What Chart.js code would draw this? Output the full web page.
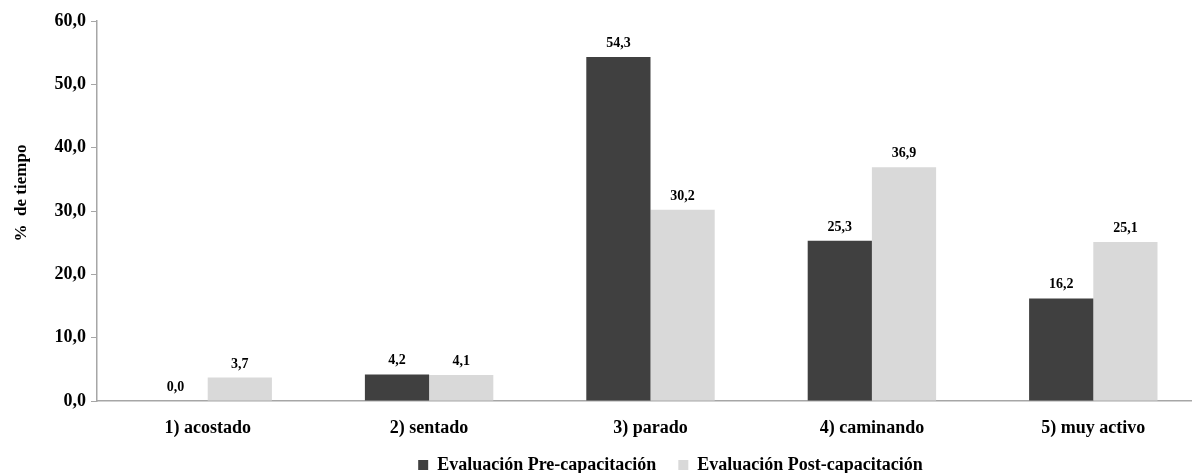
<!DOCTYPE html>
<html lang="es">
  <head>
    <meta charset="UTF-8" />
    <title>% de tiempo por nivel de actividad</title>
    <style>
      html, body { margin: 0; padding: 0; background: #fff; overflow: hidden; }
      #wrap { width: 1204px; height: 473px; }
    </style>
    <script src="https://cdn.jsdelivr.net/npm/chart.js"></script>
  </head>
  <body>
    <div id="wrap">
      <canvas id="actividadChart" width="1204" height="473"></canvas>
    </div>

    <script>
      // categorías de actividad y porcentaje de tiempo en cada una
      const categorias = ["1) acostado", "2) sentado", "3) parado", "4) caminando", "5) muy activo"];
      const preCapacitacion = [0.0, 4.2, 54.3, 25.3, 16.2];
      const postCapacitacion = [3.7, 4.1, 30.2, 36.9, 25.1];
      const serieNombres = ["Evaluación Pre-capacitación", "Evaluación Post-capacitación"];
      const tituloEjeY = "%  de tiempo";

      const FUENTE = "'Liberation Serif', 'Times New Roman', serif";
      const fmt = (v) => v.toFixed(1).replace(".", ",");
      const PAD_LEYENDA = 22;

      // valores encima de cada barra
      const etiquetasBarras = {
        id: "etiquetasBarras",
        afterDatasetsDraw(chart) {
          const ctx = chart.ctx;
          ctx.save();
          ctx.font = "bold 14px " + FUENTE;
          ctx.fillStyle = "#000";
          ctx.textAlign = "center";
          ctx.textBaseline = "alphabetic";
          chart.data.datasets.forEach((ds, i) => {
            chart.getDatasetMeta(i).data.forEach((bar, j) => {
              ctx.fillText(fmt(ds.data[j]), bar.x, bar.y - 10);
            });
          });
          ctx.restore();
        },
      };

      // título vertical del eje Y, algo por encima del centro
      const tituloY = {
        id: "tituloY",
        afterDraw(chart) {
          const ctx = chart.ctx;
          ctx.save();
          ctx.translate(22, 193);
          ctx.rotate(-Math.PI / 2);
          ctx.font = "bold 17px " + FUENTE;
          ctx.fillStyle = "#000";
          ctx.textAlign = "center";
          ctx.textBaseline = "middle";
          ctx.fillText(tituloEjeY, 0, 0);
          ctx.restore();
        },
      };

      // acomoda la leyenda: un poco a la derecha y con el texto en y = 465
      const moverLeyenda = {
        id: "moverLeyenda",
        afterLayout(chart) {
          const lg = chart.legend;
          lg.left += 20;
          lg.right += 20;
          const dy = 465 - (lg.top + PAD_LEYENDA + 9);
          lg.top += dy;
          lg.bottom += dy;
        },
      };

      const ctx = document.getElementById("actividadChart").getContext("2d");
      new Chart(ctx, {
        type: "bar",
        data: {
          labels: categorias,
          datasets: [
            {
              label: serieNombres[0],
              data: preCapacitacion,
              backgroundColor: "#404040",
              categoryPercentage: 0.58,
              barPercentage: 1.0,
            },
            {
              label: serieNombres[1],
              data: postCapacitacion,
              backgroundColor: "#d9d9d9",
              categoryPercentage: 0.58,
              barPercentage: 1.0,
            },
          ],
        },
        options: {
          responsive: false,
          animation: false,
          layout: { padding: { top: 21, right: 0, left: 0, bottom: -22 } },
          plugins: {
            tooltip: { enabled: false },
            legend: {
              position: "bottom",
              fullSize: false,
              labels: {
                color: "#000",
                font: { family: FUENTE, size: 18, weight: "bold" },
                boxWidth: 10,
                boxHeight: 10,
                padding: PAD_LEYENDA,
              },
            },
          },
          scales: {
            x: {
              grid: { display: false },
              border: { display: true, color: "#a6a6a6", width: 1.5 },
              ticks: {
                color: "#000",
                font: { family: FUENTE, size: 18, weight: "bold" },
                padding: 9,
                maxRotation: 0,
              },
              afterFit(scale) {
                scale.height = 44;
              },
            },
            y: {
              min: 0,
              max: 60,
              ticks: {
                stepSize: 10,
                color: "#000",
                font: { family: FUENTE, size: 18, weight: "bold" },
                padding: 5,
                callback: (v) => fmt(v),
              },
              grid: {
                drawOnChartArea: false,
                drawTicks: true,
                tickLength: 6,
                color: "#a6a6a6",
              },
              border: { display: true, color: "#a6a6a6", width: 1.5 },
              afterFit(scale) {
                scale.width = 97;
              },
            },
          },
        },
        plugins: [etiquetasBarras, tituloY, moverLeyenda],
      });
    </script>
  </body>
</html>
